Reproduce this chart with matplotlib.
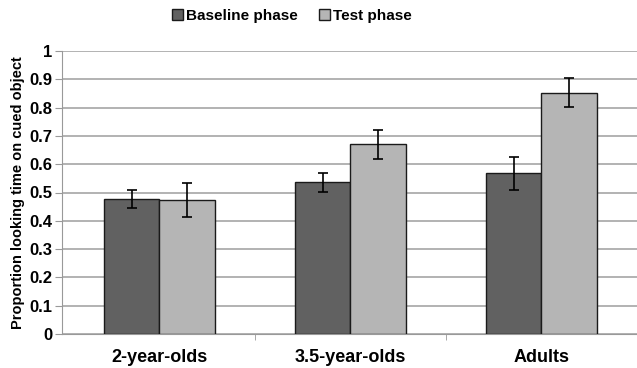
import numpy as np
import matplotlib.pyplot as plt

plt.rcParams['font.family'] = ['Liberation Sans', 'DejaVu Sans']
plt.rcParams['font.weight'] = 'bold'

groups = ["2-year-olds", "3.5-year-olds", "Adults"]
baseline = [0.477, 0.536, 0.568]
baseline_err = [0.032, 0.033, 0.058]
test = [0.475, 0.670, 0.853]
test_err = [0.060, 0.050, 0.050]
yticks = [0, 0.1, 0.2, 0.3, 0.4, 0.5, 0.6, 0.7, 0.8, 0.9, 1]
ytick_labels = ["0", "0.1", "0.2", "0.3", "0.4", "0.5", "0.6", "0.7", "0.8", "0.9", "1"]

fig = plt.figure(figsize=(6.37, 3.68), dpi=100)
ax = fig.add_axes([62 / 637, 34 / 368, 575 / 637, 283 / 368])

x = np.arange(len(groups))
w = 0.29
err_kw = dict(ecolor="black", capsize=3.5, elinewidth=1.2, capthick=1.2)
b1 = ax.bar(x - w / 2, baseline, w, yerr=baseline_err, color="#616161",
            edgecolor="#1a1a1a", linewidth=1, error_kw=err_kw, zorder=3,
            label="Baseline phase")
b2 = ax.bar(x + w / 2, test, w, yerr=test_err, color="#b5b5b5",
            edgecolor="#1a1a1a", linewidth=1, error_kw=err_kw, zorder=3,
            label="Test phase")

ax.set_xlim(-0.51, 2.5)
ax.set_ylim(0, 1)
ax.set_yticks(yticks)
ax.set_yticklabels(ytick_labels, fontsize=12, fontweight="bold")
ax.set_xticks(x)
ax.set_xticklabels(groups, fontsize=13, fontweight="bold")
ax.set_xticks([0.5, 1.5], minor=True)
ax.tick_params(axis="x", which="major", length=0, pad=11)
ax.tick_params(axis="x", which="minor", length=4, color="#999999")
ax.tick_params(axis="y", length=5, color="#999999", pad=2)
ax.yaxis.grid(True, color="#a6a6a6", linewidth=1.2, zorder=0)
ax.set_axisbelow(True)
for s in ["top", "right"]:
    ax.spines[s].set_visible(False)
ax.spines["left"].set_color("#999999")
ax.spines["bottom"].set_color("#999999")
ax.set_ylabel("Proportion looking time on cued object", fontsize=10.5,
              fontweight="bold", labelpad=3)

fig.legend(handles=[b1, b2], loc="center", bbox_to_anchor=(292 / 637, 1 - 16 / 368),
           ncol=2, frameon=False, handlelength=0.7, handleheight=0.7,
           handletextpad=0.2, columnspacing=1.4,
           prop={"size": 11, "weight": "bold"})

fig.savefig("out.png", dpi=100)
